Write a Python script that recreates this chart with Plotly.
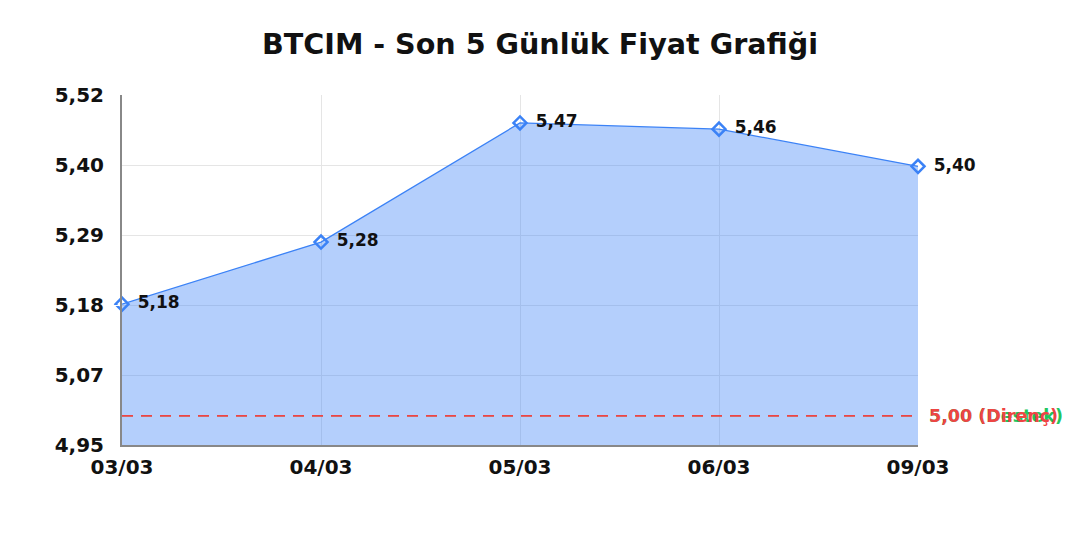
import plotly.graph_objects as go

# son 5 gunluk kapanis fiyatlari
dates = ["03/03", "04/03", "05/03", "06/03", "09/03"]
prices = [5.18, 5.28, 5.472, 5.462, 5.402]
price_labels = ["5,18", "5,28", "5,47", "5,46", "5,40"]

resistance = 5.00
support = 5.00

y_min, y_max = 4.953, 5.517
n_steps = 5
y_ticks = [y_min + i * (y_max - y_min) / n_steps for i in range(n_steps + 1)]
y_tick_text = ["4,95", "5,07", "5,18", "5,29", "5,40", "5,52"]

font = "DejaVu Sans"

fig = go.Figure()

fig.add_trace(go.Scatter(
    x=dates, y=prices,
    mode="lines+markers+text",
    fill="tozeroy",
    fillcolor="rgba(59,130,246,0.38)",
    line=dict(color="#3b82f6", width=1.3),
    marker=dict(symbol="diamond-open", size=10, color="#3b82f6",
                line=dict(width=2.5, color="#3b82f6")),
    text=["\u2002" + t for t in price_labels],
    textposition="middle right",
    textfont=dict(family=font, size=17, color="#111111", weight="bold"),
    cliponaxis=False,
    showlegend=False,
    hoverinfo="skip",
))

# destek / direnc cizgileri (ayni seviyede, kirmizi ustte)
fig.add_trace(go.Scatter(
    x=dates, y=[support] * len(dates), mode="lines",
    line=dict(color="#22c55e", width=0.8, dash="11px,8px"),
    showlegend=False, hoverinfo="skip",
))
fig.add_trace(go.Scatter(
    x=dates, y=[resistance] * len(dates), mode="lines",
    line=dict(color="#ef4444", width=1.8, dash="11px,8px"),
    showlegend=False, hoverinfo="skip",
))

fig.add_annotation(x=1, xref="paper", y=support, yref="y",
                   text="5,00 (Destek)", showarrow=False,
                   xanchor="left", xshift=9,
                   font=dict(family=font, size=17.5, color="#22c55e", weight="bold"))
fig.add_annotation(x=1, xref="paper", y=resistance, yref="y",
                   text="5,00 (Direnç)", showarrow=False,
                   xanchor="left", xshift=9,
                   font=dict(family=font, size=17.5, color="#ef4444", weight="bold"))

# sayfa kenar boslugu (8px) icin kaydirilmis margin
fig.update_layout(
    width=1080, height=540,
    margin=dict(l=114, r=170, t=87, b=103),
    paper_bgcolor="white", plot_bgcolor="white",
    title=dict(text="BTCIM - Son 5 Günlük Fiyat Grafiği", x=0.4926, xanchor="center",
               y=0.934, yanchor="middle",
               font=dict(family=font, size=28.6, color="#111111", weight="bold")),
    font=dict(family=font),
)

fig.update_xaxes(
    type="category", range=[0, len(dates) - 1],
    showgrid=True, gridcolor="#e5e5e5", gridwidth=1,
    showline=True, linecolor="#888888", linewidth=2,
    ticks="outside", ticklen=3, tickcolor="white",
    tickfont=dict(family=font, size=20, color="#111111", weight="bold"),
)
fig.update_yaxes(
    range=[y_min, y_max],
    tickvals=y_ticks, ticktext=y_tick_text,
    showgrid=True, gridcolor="#e5e5e5", gridwidth=1,
    showline=True, linecolor="#888888", linewidth=2,
    zeroline=False,
    ticks="outside", ticklen=12, tickcolor="white",
    tickfont=dict(family=font, size=20, color="#111111", weight="bold"),
)

fig.write_html("out.html")
